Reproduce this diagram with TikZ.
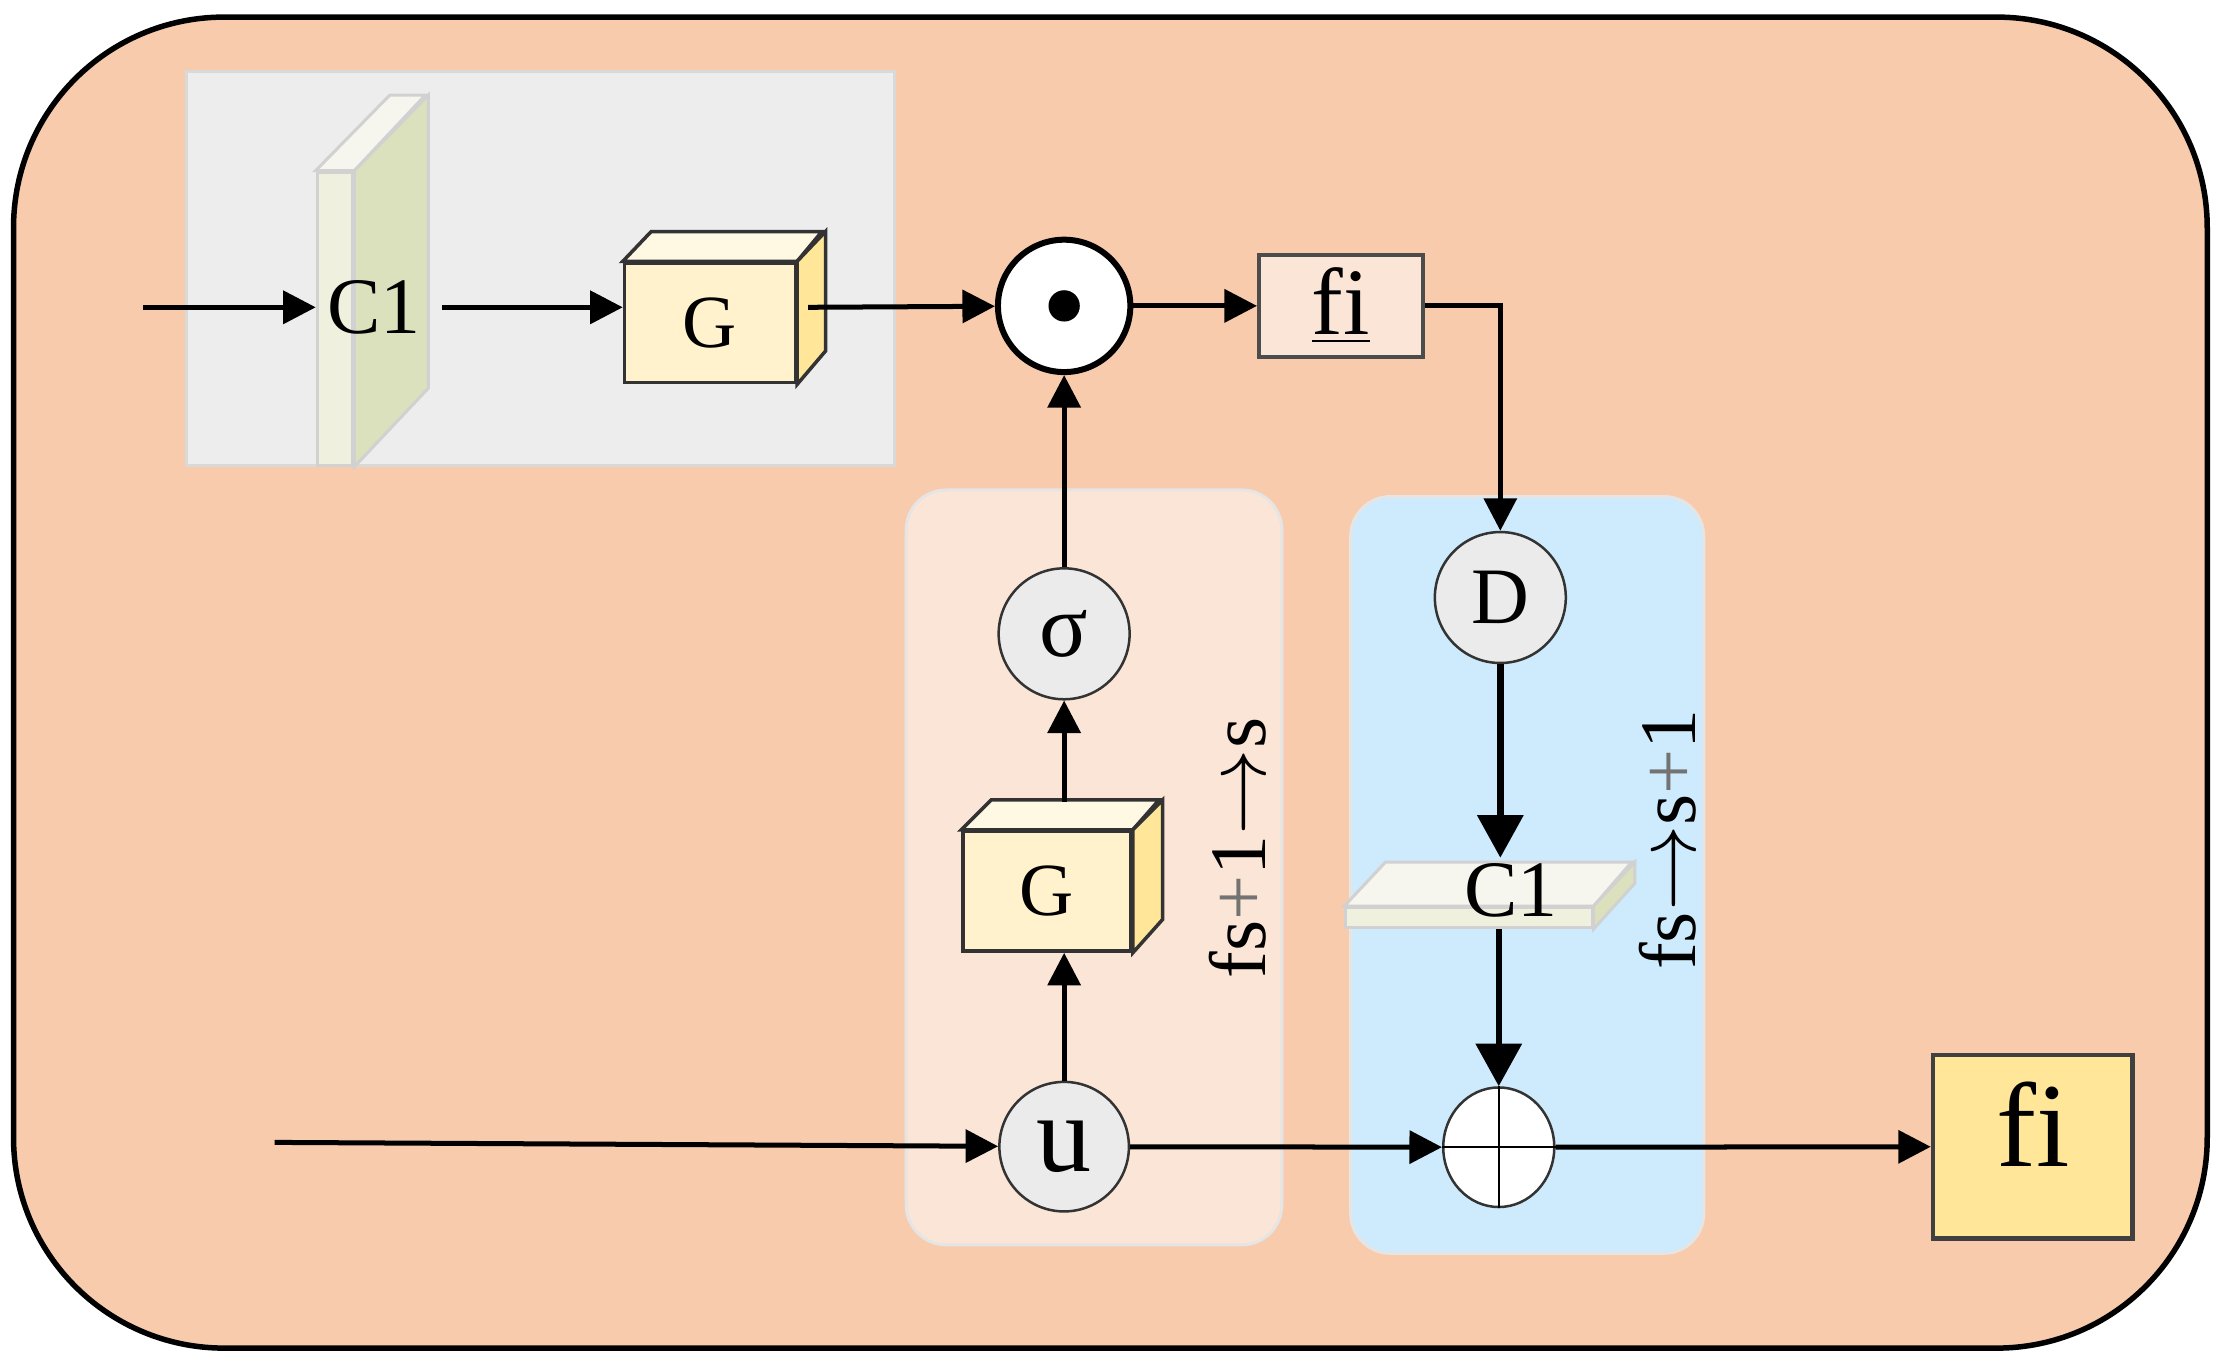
\documentclass[tikz,border=0pt]{standalone}
\usepackage{fontspec}
\setmainfont{Liberation Serif}
\usetikzlibrary{arrows.meta,shapes.geometric}

\definecolor{outerpeach}{HTML}{F8CBAD}
\definecolor{boxgray}{HTML}{EDEDED}
\definecolor{panelpeach}{HTML}{FBE5D6}
\definecolor{panelblue}{HTML}{CDEBFC}
\definecolor{gfront}{HTML}{FFF2CC}
\definecolor{gtop}{HTML}{FFF8E3}
\definecolor{gside}{HTML}{FFE699}
\definecolor{slabfront}{HTML}{EFF1DE}
\definecolor{slabside}{HTML}{DAE1BC}
\definecolor{slabtop}{HTML}{F6F6EE}
\definecolor{opgray}{HTML}{EBEBEB}

\begin{document}
\begin{tikzpicture}[x=0.01cm,y=0.01cm]
\tikzstyle{every node}+=[inner sep=0pt]
\tikzstyle{arr}=[black, line width=1pt, -{Triangle[length=6.5pt,width=6.5pt]}]
\tikzstyle{bigarr}=[black, line width=1.3pt, -{Triangle[length=8.5pt,width=9pt]}]
\tikzstyle{opnode}=[circle, draw=black!80, line width=0.5pt, fill=opgray, minimum size=0.92cm]
\tikzstyle{cubeface}=[draw=black!80, line width=0.7pt]
\tikzstyle{slabface}=[draw=black!18, line width=0.6pt]
\tikzstyle{txt}=[font=\fontsize{16pt}{18pt}\selectfont]
\useasboundingbox (0,0) rectangle (1564,-963);
% background and panels
\filldraw [fill=outerpeach, draw=black, line width=1.1pt, rounded corners=1.48cm] (9.5,-12) rectangle (1551.5,-947.6);
\filldraw [fill=boxgray, draw=black!15, line width=0.6pt] (131,-50) rectangle (629,-327);
\filldraw [fill=panelpeach, draw=black!10, line width=0.6pt, rounded corners=0.28cm] (637,-344.4) rectangle (901,-875);
\filldraw [fill=panelblue, draw=black!10, line width=0.6pt, rounded corners=0.28cm] (949.4,-349) rectangle (1197.6,-881);
% first C1 plate
\node [slabface, fill=slabfront, minimum width=0.25cm, minimum height=2.06cm] (c1f) at (235.5,-224) {};
\filldraw [slabface, fill=slabside] (c1f.north east) -- ++(52,53) -- ++(0,-206) -- (c1f.south east) -- cycle;
\filldraw [slabface, fill=slabtop] (c1f.north west) -- ++(52,53) -- ++(25,0) -- (c1f.north east) -- cycle;
\node [txt, inner xsep=4pt] (c1t) at (263,-216) {C1};
% first G cube
\node [cubeface, fill=gfront, minimum width=1.2cm, minimum height=0.84cm, font=\fontsize{15pt}{17pt}\selectfont] (g1) at (499,-227) {G};
\filldraw [cubeface, fill=gtop] (g1.north west) -- ++(20,21) -- ++(120,0) -- (g1.north east) -- cycle;
\filldraw [cubeface, fill=gside] (g1.north east) -- ++(20,21) -- ++(0,-84) -- (g1.south east) -- cycle;
% product and fi
\node [circle, draw=black, line width=1.2pt, fill=white, minimum size=0.93cm] (od) at (748,-215) {};
\fill [black] (od) circle (0.11cm);
\node [draw=black!70, line width=0.8pt, fill=panelpeach, minimum width=1.15cm, minimum height=0.72cm, font=\fontsize{19pt}{21pt}\selectfont] (fi1) at (942.5,-215) {\underline{fi}};
% left column
\node [opnode, font=\fontsize{18pt}{20pt}\selectfont] (sig) at (748,-445.5) {σ};
\node [cubeface, fill=gfront, minimum width=1.18cm, minimum height=0.84cm, font=\fontsize{15pt}{17pt}\selectfont] (g2) at (736,-626.5) {G};
\filldraw [cubeface, fill=gtop] (g2.north west) -- ++(21,21) -- ++(118,0) -- (g2.north east) -- cycle;
\filldraw [cubeface, fill=gside] (g2.north east) -- ++(21,21) -- ++(0,-84) -- (g2.south east) -- cycle;
\node [opnode, minimum size=0.91cm, font=\fontsize{22pt}{24pt}\selectfont] (u) at (748,-806) {u};
\node [txt, rotate=90] (lab1) at (870,-596) {fs{\color{black!55}+}1$\rightarrow$s};
% right column
\node [opnode, font=\fontsize{16pt}{18pt}\selectfont] (d) at (1054.6,-420) {D};
\node [slabface, fill=slabfront, minimum width=1.73cm, minimum height=0.14cm] (c2f) at (1032.5,-645) {};
\filldraw [slabface, fill=slabtop] (c2f.north west) -- ++(29,31) -- ++(173,0) -- (c2f.north east) -- cycle;
\filldraw [slabface, fill=slabside] (c2f.north east) -- ++(29,31) -- ++(0,-15) -- (c2f.south east) -- cycle;
\node [txt, inner ysep=1pt] (c2t) at (1062,-626) {C1};
\node [ellipse, draw=black!80, line width=0.5pt, fill=white, minimum width=0.78cm, minimum height=0.84cm] (plus) at (1053.5,-806.4) {};
\draw [black, line width=0.5pt] (plus.north) -- (plus.south) (plus.west) -- (plus.east);
\node [txt, rotate=90] (lab2) at (1172,-590) {fs$\rightarrow$s{\color{black!55}+}1};
% output
\node [draw=black!75, line width=0.9pt, fill=gside, minimum width=1.4cm, minimum height=1.29cm, text height=16pt, text depth=8pt, font=\fontsize{24pt}{26pt}\selectfont] (fi2) at (1428.8,-806) {fi};
% connectors
\coordinate (in1) at (100.7,-216);
\coordinate (in2) at (193,-803);
\coordinate (g1out) at (568,-216);
\coordinate (g2top) at (748,-563.5);
\draw [arr] (in1) -- (in1 -| c1f.west);
\draw [arr] (c1t.east) -- (c1t.east -| g1.west);
\draw [arr] (g1out) -- (od);
\draw [arr] (od) -- (fi1);
\draw [arr] (fi1.east) -| (d.north);
\draw [arr] (sig) -- (od);
\draw [arr] (g2top) -- (sig);
\draw [arr] (u.north) -- (u.north |- g2.south);
\draw [bigarr] (d) -- (d |- c2t.north);
\draw [bigarr] (plus |- c2f.south) -- (plus);
\draw [arr] (in2) -- (u);
\draw [arr] (u) -- (plus);
\draw [arr] (plus) -- (fi2);
\end{tikzpicture}
\end{document}
